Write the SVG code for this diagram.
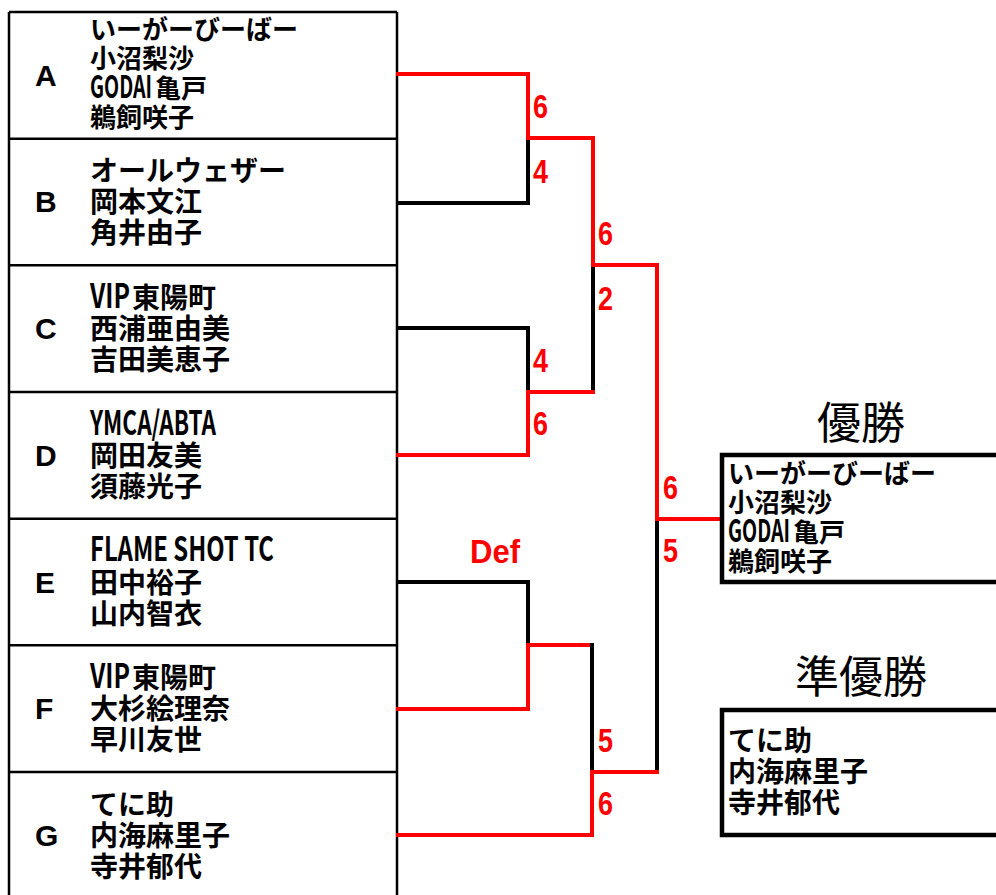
<svg xmlns="http://www.w3.org/2000/svg" width="996" height="895" viewBox="0 0 996 895">
<style>
.grid{stroke:#000;stroke-width:2.5;fill:none}
.bk{stroke:#000;stroke-width:4;fill:none;stroke-linecap:square}
.rd{stroke:#ff0000;stroke-width:4;fill:none;stroke-linecap:square}
.box{stroke:#000;stroke-width:4.5;fill:#fff}
.nm{font-family:"Noto Sans CJK JP",sans-serif;font-weight:bold;fill:#000}
.n26{font-size:26px}
.n28{font-size:28px}
.la{font-size:31px}
.lb{font-size:33px}
.lt{font-family:"Liberation Sans",Arial,sans-serif;font-weight:bold;font-size:30px;fill:#000}
.sc{font-family:"Liberation Sans",Arial,sans-serif;font-weight:bold;font-size:33px;fill:#ff0000}
.ttl{font-family:"Noto Sans CJK JP",sans-serif;font-size:44px;fill:#000;text-anchor:middle}
</style>
<rect width="996" height="895" fill="#fff"/>

<g id="table">
<line class="grid" x1="9" y1="12" x2="9" y2="895"/>
<line class="grid" x1="397" y1="12" x2="397" y2="895"/>
<line class="grid" x1="9" y1="12" x2="397" y2="12"/>
<line class="grid" x1="9" y1="138.7" x2="397" y2="138.7"/>
<line class="grid" x1="9" y1="265.3" x2="397" y2="265.3"/>
<line class="grid" x1="9" y1="392" x2="397" y2="392"/>
<line class="grid" x1="9" y1="518.7" x2="397" y2="518.7"/>
<line class="grid" x1="9" y1="645.3" x2="397" y2="645.3"/>
<line class="grid" x1="9" y1="772" x2="397" y2="772"/>
</g>

<g id="node-A">
<text class="lt" x="35" y="86">A</text>
<text class="nm n26"><tspan x="90" y="39">いーがーびーばー</tspan><tspan x="90" y="68">小沼梨沙</tspan><tspan x="90" y="98" class="la" textLength="62" lengthAdjust="spacingAndGlyphs">GODAI</tspan><tspan x="155" y="98">亀戸</tspan><tspan x="90" y="127">鵜飼咲子</tspan></text>
</g>
<g id="node-B">
<text class="lt" x="35" y="212">B</text>
<text class="nm n28"><tspan x="90" y="181">オールウェザー</tspan><tspan x="90" y="212">岡本文江</tspan><tspan x="90" y="243">角井由子</tspan></text>
</g>
<g id="node-C">
<text class="lt" x="35" y="339">C</text>
<text class="nm n28"><tspan x="90" y="308" class="lb" textLength="40" lengthAdjust="spacingAndGlyphs">VIP</tspan><tspan x="132" y="308">東陽町</tspan><tspan x="90" y="339">西浦亜由美</tspan><tspan x="90" y="370">吉田美恵子</tspan></text>
</g>
<g id="node-D">
<text class="lt" x="35" y="466">D</text>
<text class="nm n28"><tspan x="90" y="435" class="lb" textLength="126" lengthAdjust="spacingAndGlyphs">YMCA/ABTA</tspan><tspan x="90" y="466">岡田友美</tspan><tspan x="90" y="497">須藤光子</tspan></text>
</g>
<g id="node-E">
<text class="lt" x="35" y="593">E</text>
<text class="nm n28"><tspan x="90" y="561" class="lb" textLength="184" lengthAdjust="spacingAndGlyphs">FLAME SHOT TC</tspan><tspan x="90" y="593">田中裕子</tspan><tspan x="90" y="624">山内智衣</tspan></text>
</g>
<g id="node-F">
<text class="lt" x="35" y="719">F</text>
<text class="nm n28"><tspan x="90" y="688" class="lb" textLength="40" lengthAdjust="spacingAndGlyphs">VIP</tspan><tspan x="132" y="688">東陽町</tspan><tspan x="90" y="719">大杉絵理奈</tspan><tspan x="90" y="750">早川友世</tspan></text>
</g>
<g id="node-G">
<text class="lt" x="35" y="846">G</text>
<text class="nm n28"><tspan x="90" y="815">てに助</tspan><tspan x="90" y="846">内海麻里子</tspan><tspan x="90" y="877">寺井郁代</tspan></text>
</g>

<g id="connectors">
<line class="rd" x1="398" y1="74" x2="528" y2="74"/>
<line class="rd" x1="528" y1="74" x2="528" y2="138"/>
<line class="bk" x1="528" y1="138" x2="528" y2="203"/>
<line class="bk" x1="398" y1="203" x2="528" y2="203"/>
<line class="rd" x1="528" y1="138" x2="593" y2="138"/>
<line class="rd" x1="593" y1="138" x2="593" y2="265"/>
<line class="bk" x1="593" y1="265" x2="593" y2="392"/>
<line class="bk" x1="398" y1="328" x2="528" y2="328"/>
<line class="bk" x1="528" y1="328" x2="528" y2="392"/>
<line class="rd" x1="528" y1="392" x2="528" y2="455"/>
<line class="rd" x1="398" y1="455" x2="528" y2="455"/>
<line class="rd" x1="528" y1="392" x2="593" y2="392"/>
<line class="rd" x1="593" y1="265" x2="657" y2="265"/>
<line class="rd" x1="657" y1="265" x2="657" y2="519"/>
<line class="bk" x1="657" y1="519" x2="657" y2="772"/>
<line class="rd" x1="657" y1="519" x2="720" y2="519"/>
<line class="bk" x1="398" y1="582" x2="528" y2="582"/>
<line class="bk" x1="528" y1="582" x2="528" y2="645"/>
<line class="rd" x1="528" y1="645" x2="528" y2="709"/>
<line class="rd" x1="398" y1="709" x2="528" y2="709"/>
<line class="rd" x1="528" y1="645" x2="592" y2="645"/>
<line class="bk" x1="592" y1="645" x2="592" y2="772"/>
<line class="rd" x1="592" y1="772" x2="592" y2="835"/>
<line class="rd" x1="398" y1="835" x2="592" y2="835"/>
<line class="rd" x1="592" y1="772" x2="657" y2="772"/>
</g>

<g id="scores">
<text class="sc" x="533" y="118" textLength="15" lengthAdjust="spacingAndGlyphs">6</text>
<text class="sc" x="533" y="183" textLength="15" lengthAdjust="spacingAndGlyphs">4</text>
<text class="sc" x="598" y="245" textLength="15" lengthAdjust="spacingAndGlyphs">6</text>
<text class="sc" x="598" y="310" textLength="15" lengthAdjust="spacingAndGlyphs">2</text>
<text class="sc" x="533" y="372" textLength="15" lengthAdjust="spacingAndGlyphs">4</text>
<text class="sc" x="533" y="435" textLength="15" lengthAdjust="spacingAndGlyphs">6</text>
<text class="sc" x="663" y="499" textLength="15" lengthAdjust="spacingAndGlyphs">6</text>
<text class="sc" x="663" y="562" textLength="15" lengthAdjust="spacingAndGlyphs">5</text>
<text class="sc" x="470" y="563" textLength="50" lengthAdjust="spacingAndGlyphs">Def</text>
<text class="sc" x="598" y="752" textLength="15" lengthAdjust="spacingAndGlyphs">5</text>
<text class="sc" x="598" y="815" textLength="15" lengthAdjust="spacingAndGlyphs">6</text>
</g>

<g id="winner">
<text class="ttl" x="861" y="439">優勝</text>
<rect class="box" x="722" y="455" width="290" height="127"/>
<text class="nm n26"><tspan x="728" y="483">いーがーびーばー</tspan><tspan x="728" y="512">小沼梨沙</tspan><tspan x="728" y="542" class="la" textLength="62" lengthAdjust="spacingAndGlyphs">GODAI</tspan><tspan x="793" y="542">亀戸</tspan><tspan x="728" y="571">鵜飼咲子</tspan></text>
</g>

<g id="runner-up">
<text class="ttl" x="861" y="693">準優勝</text>
<rect class="box" x="722" y="710" width="290" height="125"/>
<text class="nm n28"><tspan x="728" y="751">てに助</tspan><tspan x="728" y="782">内海麻里子</tspan><tspan x="728" y="813">寺井郁代</tspan></text>
</g>
</svg>
